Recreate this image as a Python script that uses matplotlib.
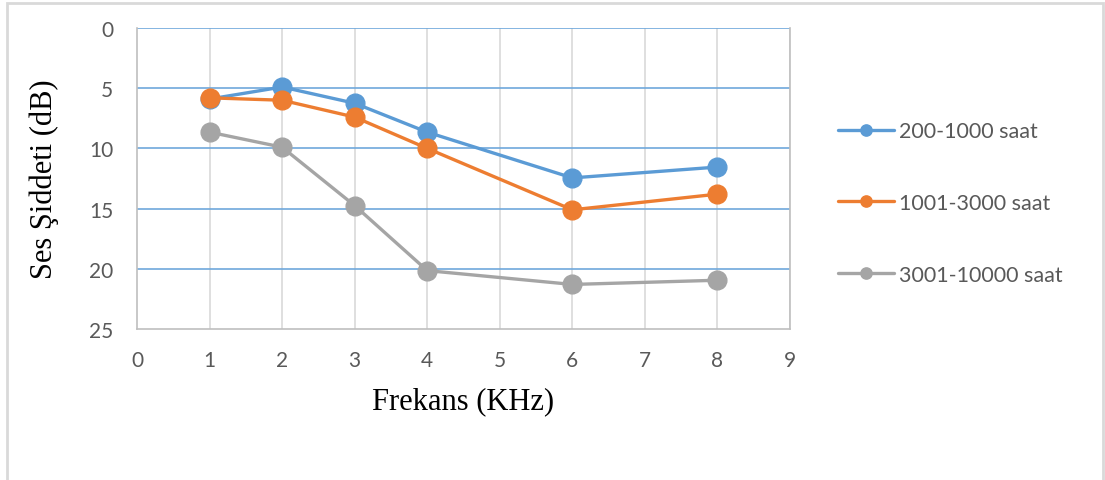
import matplotlib
matplotlib.use("Agg")
import matplotlib.pyplot as plt
from matplotlib.patches import Rectangle

frekans = [1, 2, 3, 4, 6, 8]
s_200_1000 = [5.9, 4.9, 6.25, 8.65, 12.45, 11.55]
s_1001_3000 = [5.8, 6.0, 7.4, 10.0, 15.1, 13.8]
s_3001_10000 = [8.65, 9.9, 14.75, 20.15, 21.3, 20.95]
labels = ["200-1000 saat", "1001-3000 saat", "3001-10000 saat"]
colors = ["#5B9BD5", "#ED7D31", "#A5A5A5"]

fig = plt.figure(figsize=(11.05, 4.81), dpi=100)
fig.patch.set_facecolor("white")
# outer chart border
fig.add_artist(Rectangle((6.5 / 1105, -0.05), (1103 - 6.5) / 1105, 1.05 - 4 / 481,
                         transform=fig.transFigure, fill=False,
                         edgecolor="#D9D9D9", linewidth=2))

ax = fig.add_axes([137 / 1105, 1 - 330 / 481, (790 - 137) / 1105, (330 - 29) / 481])

for ys, lab, c in zip([s_200_1000, s_1001_3000, s_3001_10000], labels, colors):
    ax.plot(frekans, ys, color=c, linewidth=2.4, marker="o", markersize=13.5,
            label=lab, zorder=3, solid_capstyle="round")

ax.set_xlim(0, 9)
ax.set_ylim(25, 0)
ax.set_xticks(range(0, 10))
ax.set_yticks(range(0, 26, 5))

# gridlines
for y in [0, 5, 10, 15, 20]:
    ax.axhline(y, color="#6FA8DC", linewidth=1.2, zorder=1)
for x in range(1, 10):
    ax.axvline(x, color="#D9D9D9", linewidth=1.2, zorder=0)

for s in ["left", "bottom", "right"]:
    ax.spines[s].set_color("#BFBFBF")
    ax.spines[s].set_linewidth(1.2)
ax.spines["top"].set_visible(False)

ax.tick_params(axis="both", length=0, labelsize=15, labelcolor="#595959")
ax.tick_params(axis="y", pad=17)
ax.tick_params(axis="x", pad=15)
for t in ax.get_xticklabels() + ax.get_yticklabels():
    t.set_fontfamily("Lato")

ax.set_xlabel("Frekans (KHz)", fontfamily="Liberation Serif", fontsize=22,
              color="black", labelpad=12)
ax.set_ylabel("Ses Şiddeti (dB)", fontfamily="Liberation Serif", fontsize=22,
              color="black", labelpad=22)

handles, labs = ax.get_legend_handles_labels()
leg = fig.legend(handles, labs, loc="center left",
                 bbox_to_anchor=(838 / 1105, 1 - 204 / 481),
                 frameon=False, prop={"family": "Lato", "size": 15.5},
                 labelspacing=2.4, handlelength=2.6, handletextpad=0.25,
                 markerscale=0.6, borderaxespad=0, borderpad=0)
for t in leg.get_texts():
    t.set_color("#595959")

fig.savefig("out.png", dpi=100)
